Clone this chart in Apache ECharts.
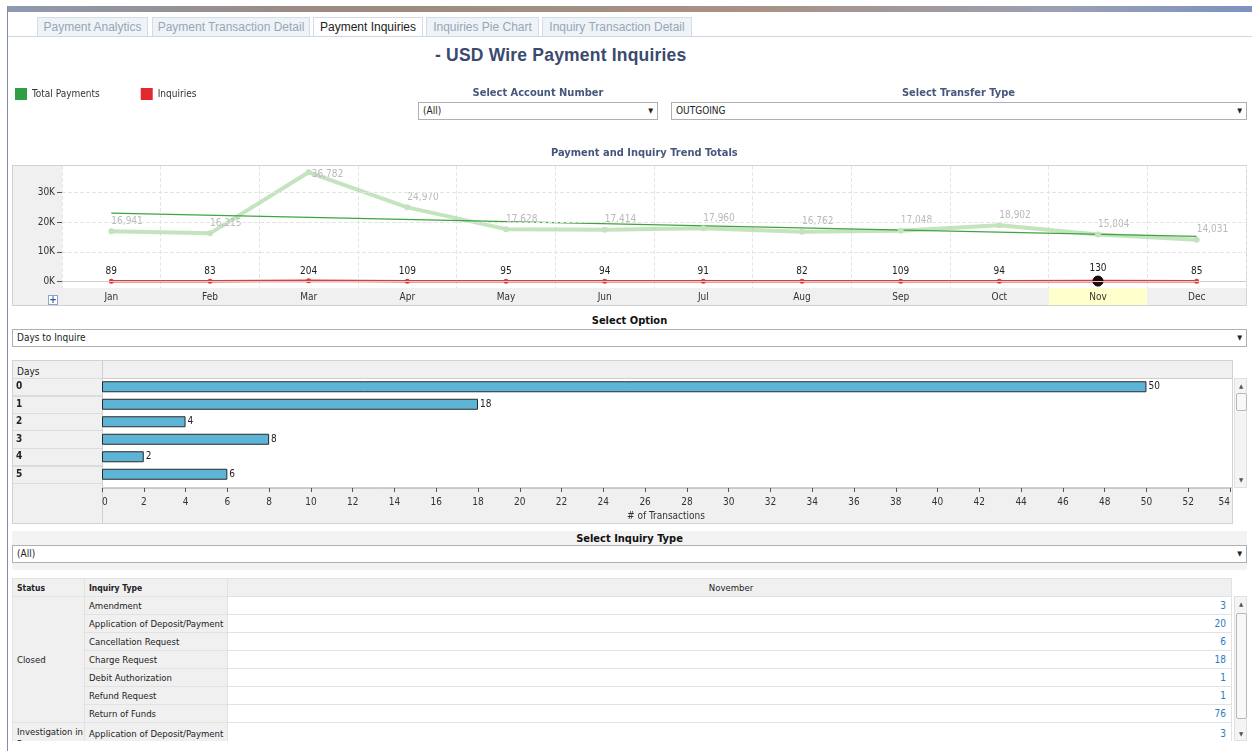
<!DOCTYPE html>
<html>
<head>
<meta charset="utf-8">
<title>USD Wire Payment Inquiries</title>
<script src="https://cdn.jsdelivr.net/npm/echarts@6.0.0/dist/echarts.min.js"></script>
<style>
  body { margin:0; width:1252px; height:751px; overflow:hidden; background:#fff; position:relative;
         font-family:"DejaVu Sans Condensed","Liberation Sans",sans-serif; font-size:10px; color:#333; }
  .abs { position:absolute; }
  .topbar { left:8px; top:6px; width:1244px; height:6px;
            background:linear-gradient(to right,#8e9ab0,#9c8a80 25%,#a89284 60%,#9aa0b4 85%,#7d92c0); }
  .leftline { left:7px; top:6px; width:1px; height:745px; background:#7f8ca6; }
  .tabline { left:8px; top:36px; width:1244px; height:1px; background:#cdd8e4; }
  .tab { top:17px; height:19px; line-height:19px; box-sizing:border-box; border:1px solid #d3dce7; border-bottom:none;
         background:#eef3f8; color:#98a6b6; font-family:"Liberation Sans",sans-serif; font-size:12px; text-align:center; }
  .tab.on { background:#fff; color:#222; height:20px; }
  .title { left:435px; top:45px; font-family:"Liberation Sans",sans-serif; font-weight:bold; font-size:17.5px; color:#3b4a6e; letter-spacing:0.2px; }
  .lbl { font-weight:bold; font-size:11px; color:#45577a; text-align:center; z-index:3; }
  .lbl.dark { color:#111; }
  .sel { box-sizing:border-box; height:18px; border:1px solid #b0b0b0; background:#fff; line-height:16px;
         padding-left:4px; color:#222; z-index:3; }
  .sel:after { content:'\25BC'; position:absolute; right:4px; top:0; font-size:7px; color:#222; }
  .panel { box-sizing:border-box; background:#f0f0f0; border:1px solid #d2d2d2; }
  .chart { z-index:2; }
  .plus { left:48px; top:295px; width:10px; height:10px; box-sizing:border-box; border:1px solid #8fa3c6; background:#fff;
          color:#2d5aa8; font-weight:bold; font-size:10px; line-height:8px; text-align:center; z-index:4; }
  .scroll { box-sizing:border-box; background:#f4f4f4; border:1px solid #e0e0e0; }
  .thumb { box-sizing:border-box; left:1px; width:11px; background:#f8f8f8; border:1px solid #b8b8b8; border-radius:2px; }
  .arrow { left:0; width:12px; text-align:center; font-size:6px; color:#555; }
  table { border-collapse:collapse; table-layout:fixed; width:1220px; }
  td, th { height:17px; padding:0 1px 0 4px; border:1px solid #e2e2e2; white-space:nowrap; overflow:hidden; font-size:9.5px; }
  th { background:#f0f0f0; font-weight:normal; color:#222; font-size:9.5px; }
  th.b { font-weight:bold; text-align:left; font-size:8.5px; }
  td.g { background:#f0f0f0; color:#222; }
  td.v { text-align:right; color:#2b7bbf; background:#fff; font-size:10px; padding-right:5px; }
</style>
</head>
<body>
<div class="abs topbar"></div>
<div class="abs leftline"></div>
<div class="abs tab" style="left:37px;width:111px;">Payment Analytics</div>
<div class="abs tab" style="left:152px;width:158px;">Payment Transaction Detail</div>
<div class="abs tab on" style="left:313px;width:110px;">Payment Inquiries</div>
<div class="abs tab" style="left:426px;width:113px;">Inquiries Pie Chart</div>
<div class="abs tab" style="left:542px;width:150px;">Inquiry Transaction Detail</div>
<div class="abs tabline"></div>
<div class="abs title">- USD Wire Payment Inquiries</div>

<div class="abs lbl" style="left:418px;top:86px;width:240px;">Select Account Number</div>
<div class="abs sel" style="left:418px;top:102px;width:240px;">(All)</div>
<div class="abs lbl" style="left:671px;top:86px;width:575px;">Select Transfer Type</div>
<div class="abs sel" style="left:671px;top:102px;width:576px;">OUTGOING</div>

<div class="abs panel" style="left:12px;top:165px;width:1235px;height:141px;"></div>
<div id="trend" class="abs chart" style="left:0;top:80px;width:1252px;height:226px;"></div>
<div class="abs plus">+</div>

<div class="abs lbl dark" style="left:12px;top:314px;width:1235px;">Select Option</div>
<div class="abs sel" style="left:12px;top:329px;width:1235px;">Days to Inquire</div>

<div class="abs panel" style="left:12px;top:360px;width:1221px;height:164px;"></div>
<div class="abs" style="left:102px;top:378px;width:1130px;height:110px;background:#fff;border-left:1px solid #cfcfcf;border-top:1px solid #cfcfcf;border-bottom:1px solid #cfcfcf;box-sizing:border-box;"></div>
<div class="abs" style="left:13px;top:378px;width:89px;height:110px;background:repeating-linear-gradient(to bottom,#dcdcdc 0,#dcdcdc 1px,#f0f0f0 1px,#f0f0f0 17.5px);"></div>
<div class="abs" style="left:102px;top:361px;width:1px;height:162px;background:#cfcfcf;"></div>
<div class="abs" style="left:17px;top:366px;color:#222;">Days</div>
<div id="days" class="abs chart" style="left:0;top:360px;width:1252px;height:163px;"></div>
<div class="abs scroll" style="left:1234px;top:378px;width:13px;height:110px;">
  <div class="abs arrow" style="top:3px;">&#9650;</div>
  <div class="abs thumb" style="top:14px;height:18px;"></div>
  <div class="abs arrow" style="top:97px;">&#9660;</div>
</div>

<div class="abs" style="left:12px;top:531px;width:1235px;height:39px;background:#f3f3f3;"></div>
<div class="abs lbl dark" style="left:12px;top:532px;width:1235px;">Select Inquiry Type</div>
<div class="abs sel" style="left:12px;top:545px;width:1235px;">(All)</div>

<div id="tbl" class="abs" style="left:12px;top:578px;width:1221px;height:163px;overflow:hidden;"></div>
<div class="abs scroll" style="left:1234px;top:596px;width:13px;height:145px;">
  <div class="abs arrow" style="top:3px;">&#9650;</div>
  <div class="abs thumb" style="top:16px;height:106px;"></div>
  <div class="abs arrow" style="top:133px;">&#9660;</div>
</div>

<script>
var FONT = '"DejaVu Sans Condensed", "Liberation Sans", sans-serif';

// trend chart data
var months = ['Jan', 'Feb', 'Mar', 'Apr', 'May', 'Jun', 'Jul', 'Aug', 'Sep', 'Oct', 'Nov', 'Dec'];
var totalPayments = [16941, 16215, 36782, 24970, 17628, 17414, 17960, 16762, 17048, 18902, 15804, 14031];
var inquiries = [89, 83, 204, 109, 95, 94, 91, 82, 109, 94, 130, 85];
// trend line end points
var paymentTrend = [23000, null, null, null, null, null, null, null, null, null, null, 15200];
var yTicks = [0, 10000, 20000, 30000];
var selectedMonth = 'Nov';

// days to inquire
var dayCats = ['0', '1', '2', '3', '4', '5'];
var dayCounts = [50, 18, 4, 8, 2, 6];

// inquiry table
var inquiryStatus = ['Closed', 'Closed', 'Closed', 'Closed', 'Closed', 'Closed', 'Closed', 'Investigation in Progress'];
var inquiryTypes = ['Amendment', 'Application of Deposit/Payment', 'Cancellation Request', 'Charge Request',
  'Debit Authorization', 'Refund Request', 'Return of Funds', 'Application of Deposit/Payment'];
var novemberCounts = [3, 20, 6, 18, 1, 1, 76, 3];

var trend = echarts.init(document.getElementById('trend'));
trend.setOption({
  animation: false,
  textStyle: { fontFamily: FONT },
  title: {
    text: 'Payment and Inquiry Trend Totals', left: 546, top: 63,
    textStyle: { fontSize: 11, fontWeight: 'bold', color: '#45577a', fontFamily: FONT }
  },
  legend: {
    left: 10, top: 3, icon: 'rect', itemWidth: 12, itemHeight: 12, itemGap: 41, selectedMode: false,
    textStyle: { fontSize: 10, color: '#333', fontFamily: FONT },
    data: [
      { name: 'Total Payments', itemStyle: { color: '#2ea043' } },
      { name: 'Inquiries', itemStyle: { color: '#e0282e' } }
    ]
  },
  grid: {
    left: 62, right: 6, top: 86, bottom: 18, outerBoundsMode: 'none',
    show: true, backgroundColor: '#fff', borderWidth: 0
  },
  xAxis: {
    type: 'category', data: months, boundaryGap: true,
    axisLine: { lineStyle: { color: '#c8c8c8' } },
    axisTick: { length: 4, lineStyle: { color: '#555' } },
    splitLine: { show: true, lineStyle: { type: 'dashed', color: '#e6e6e6' } },
    axisLabel: {
      margin: 1,
      formatter: function (v) { return v === selectedMonth ? '{h|' + v + '}' : '{n|' + v + '}'; },
      rich: {
        n: { height: 15, lineHeight: 15, padding: [2, 0, 0, 0], fontSize: 10, color: '#333', fontFamily: FONT },
        h: { height: 15, lineHeight: 15, padding: [2, 0, 0, 0], width: 98, align: 'center', backgroundColor: '#ffffcc', fontSize: 10, color: '#333', fontFamily: FONT }
      }
    }
  },
  yAxis: {
    type: 'value', min: -2200, max: 38900,
    axisLine: { show: false },
    splitLine: { show: false },
    axisTick: { show: true, length: 5, customValues: yTicks, lineStyle: { color: '#555' } },
    axisLabel: {
      customValues: yTicks, margin: 7, fontSize: 10, color: '#333',
      formatter: function (v) { return v / 1000 + 'K'; }
    }
  },
  series: [
    {
      name: 'Total Payments', type: 'line',
      data: totalPayments.map(function (v, i) {
        return months[i] === 'Mar' ? { value: v, label: { position: 'right', offset: [-2, 2] } } : v;
      }),
      symbol: 'circle', symbolSize: 6,
      lineStyle: { width: 4, color: 'rgba(176,218,170,0.75)' },
      itemStyle: { color: '#c3e2bd' },
      label: {
        show: true, position: 'top', align: 'left', distance: 2, fontSize: 10, color: '#b9b9b9',
        formatter: function (p) { return p.value.toLocaleString('en-US'); }
      },
      markLine: {
        silent: true, symbol: 'none', label: { show: false },
        lineStyle: { type: 'dashed', color: '#e4e4e4', width: 1 },
        data: yTicks.map(function (v) {
          return v === 0 ? { yAxis: v, lineStyle: { type: 'solid', color: '#cfcfcf' } } : { yAxis: v };
        })
      }
    },
    {
      name: 'Trend', type: 'line', data: paymentTrend, connectNulls: true,
      symbol: 'none', lineStyle: { width: 1.2, color: '#3ea53e' }
    },
    {
      name: 'Inquiries', type: 'line',
      data: inquiries.map(function (v, i) {
        return months[i] === selectedMonth
          ? { value: v, symbolSize: 10, itemStyle: { color: '#2a0505', borderColor: '#000', borderWidth: 1 } }
          : v;
      }),
      symbol: 'circle', symbolSize: 5,
      lineStyle: { width: 2.5, color: '#e23a3a' },
      itemStyle: { color: '#e23a3a' },
      label: { show: true, position: 'top', distance: 2, fontSize: 10, color: '#222' }
    }
  ]
});

var days = echarts.init(document.getElementById('days'));
days.setOption({
  animation: false,
  textStyle: { fontFamily: FONT },
  grid: { left: 102, right: 22, top: 18, height: 105, outerBoundsMode: 'none' },
  xAxis: {
    type: 'value', min: 0, max: 54, interval: 2, position: 'bottom', offset: 5,
    axisLine: { show: true, lineStyle: { color: '#c8c8c8' } },
    axisTick: { show: true, length: 4, lineStyle: { color: '#555' } },
    splitLine: { show: false },
    axisLabel: { fontSize: 10, color: '#333', margin: 9, alignMinLabel: 'left', alignMaxLabel: 'right' },
    name: '# of Transactions', nameLocation: 'middle', nameGap: 21,
    nameTextStyle: { fontSize: 10, color: '#333', verticalAlign: 'top' }
  },
  yAxis: {
    type: 'category', data: dayCats, inverse: true,
    axisLine: { show: false }, axisTick: { show: false },
    axisLabel: { align: 'left', margin: 86, fontSize: 10, fontWeight: 'bold', color: '#222' }
  },
  series: [{
    type: 'bar', data: dayCounts, barWidth: 11,
    itemStyle: { color: '#5db4d6', borderColor: '#2a2a2a', borderWidth: 1 },
    label: { show: true, position: 'right', distance: 2, fontSize: 10, color: '#222' }
  }]
});

// pivot table
var html = '<table><colgroup><col style="width:72px"><col style="width:143px"><col></colgroup>' +
  '<tr><th class="b">Status</th><th class="b">Inquiry Type</th><th>November</th></tr>';
for (var i = 0; i < inquiryTypes.length; i++) {
  html += '<tr>';
  if (i === 0 || inquiryStatus[i] !== inquiryStatus[i - 1]) {
    var span = 1;
    while (i + span < inquiryStatus.length && inquiryStatus[i + span] === inquiryStatus[i]) span++;
    if (span > 1) {
      html += '<td class="g" rowspan="' + span + '">' + inquiryStatus[i] + '</td>';
    } else {
      html += '<td class="g" style="vertical-align:top;"><div style="height:17px;line-height:12px;padding-top:3px;white-space:normal;overflow:visible;">' +
        inquiryStatus[i] + '</div></td>';
    }
  }
  html += '<td class="g">' + inquiryTypes[i] + '</td><td class="v">' + novemberCounts[i] + '</td></tr>';
}
html += '</table>';
document.getElementById('tbl').innerHTML = html;
</script>
</body>
</html>
